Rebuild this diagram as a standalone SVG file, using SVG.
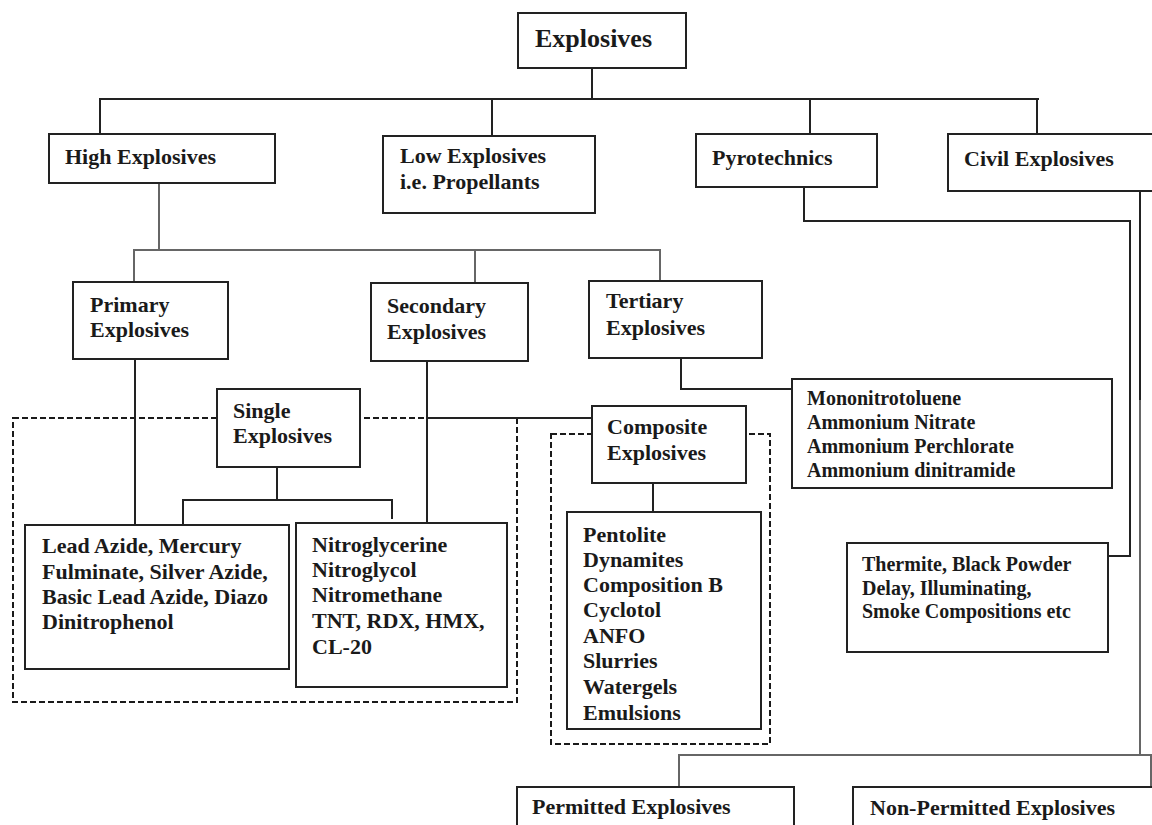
<svg xmlns="http://www.w3.org/2000/svg" width="1152" height="825" viewBox="0 0 1152 825">
<style>
.box{fill:#fff;stroke:#222;stroke-width:2}
.dash{fill:none;stroke:#1a1a1a;stroke-width:2;stroke-dasharray:6 3}
.ln{fill:none;stroke:#222;stroke-width:2}
.lg{fill:none;stroke:#666;stroke-width:2}
text{font-family:"Liberation Serif","Times New Roman",serif;font-weight:bold;fill:#1a1a1a;font-size:22px}
.t{font-size:26px}
.s{font-size:20px}
</style>
<rect width="1152" height="825" fill="#fff"/>
<g id="groups">
<rect class="dash" x="13" y="418" width="504" height="284"/>
<rect class="dash" x="551" y="434" width="219" height="310"/>
</g>
<g id="connectors">
<polyline class="ln" points="592,68 592,99"/>
<polyline class="ln" points="100,134 100,99 1039,99"/>
<polyline class="ln" points="492,99 492,136"/>
<polyline class="ln" points="810,99 810,134"/>
<polyline class="ln" points="1037,99 1037,134"/>
<polyline class="lg" points="159,183 159,250"/>
<polyline class="lg" points="134,282 134,250 660,250 660,281"/>
<polyline class="lg" points="475,250 475,283"/>
<polyline class="ln" points="135,359 135,525"/>
<polyline class="ln" points="427,361 427,523"/>
<polyline class="ln" points="427,418 592,418"/>
<polyline class="ln" points="681,359 681,389 792,389"/>
<polyline class="ln" points="277,467 277,500"/>
<polyline class="ln" points="183,525 183,500 392,500 392,519"/>
<polyline class="ln" points="653,483 653,512"/>
<polyline class="ln" points="804,187 804,221 1130,221 1130,556 1108,556"/>
<polyline class="ln" points="1140,191 1140,400"/>
<polyline class="lg" points="1140,400 1140,755"/>
<polyline class="lg" points="679,787 679,755 1151,755 1151,787"/>
</g>
<g id="n-explosives"><rect class="box" x="518" y="13" width="168" height="55"/><text class="t" x="535" y="47">Explosives</text></g>
<g id="n-high"><rect class="box" x="49" y="134" width="226" height="49"/><text x="65" y="164">High Explosives</text></g>
<g id="n-low"><rect class="box" x="383" y="136" width="212" height="77"/><text x="400" y="163">Low Explosives</text><text x="400" y="189">i.e. Propellants</text></g>
<g id="n-pyro"><rect class="box" x="696" y="134" width="181" height="53"/><text x="712" y="165">Pyrotechnics</text></g>
<g id="n-civil"><rect class="box" x="948" y="134" width="212" height="57"/><text x="964" y="166">Civil Explosives</text></g>
<g id="n-primary"><rect class="box" x="73" y="282" width="155" height="77"/><text x="90" y="312">Primary</text><text x="90" y="337">Explosives</text></g>
<g id="n-secondary"><rect class="box" x="371" y="283" width="157" height="78"/><text x="387" y="313">Secondary</text><text x="387" y="339">Explosives</text></g>
<g id="n-tertiary"><rect class="box" x="589" y="281" width="173" height="77"/><text x="606" y="308">Tertiary</text><text x="606" y="335">Explosives</text></g>
<g id="n-tertiary-list"><rect class="box" x="792" y="379" width="320" height="109"/><text class="s" x="807" y="405">Mononitrotoluene</text><text class="s" x="807" y="429">Ammonium Nitrate</text><text class="s" x="807" y="453">Ammonium Perchlorate</text><text class="s" x="807" y="477">Ammonium dinitramide</text></g>
<g id="n-single"><rect class="box" x="217" y="389" width="143" height="78"/><text x="233" y="418">Single</text><text x="233" y="443">Explosives</text></g>
<g id="n-composite"><rect class="box" x="592" y="406" width="154" height="77"/><text x="607" y="434">Composite</text><text x="607" y="460">Explosives</text></g>
<g id="n-primary-list"><rect class="box" x="25" y="525" width="264" height="144"/><text x="42" y="553">Lead Azide, Mercury</text><text x="42" y="579">Fulminate, Silver Azide,</text><text x="42" y="604">Basic Lead Azide, Diazo</text><text x="42" y="629">Dinitrophenol</text></g>
<g id="n-secondary-list"><rect class="box" x="296" y="523" width="211" height="164"/><text x="312" y="552">Nitroglycerine</text><text x="312" y="577">Nitroglycol</text><text x="312" y="602">Nitromethane</text><text x="312" y="628">TNT, RDX, HMX,</text><text x="312" y="654">CL-20</text></g>
<g id="n-composite-list"><rect class="box" x="567" y="512" width="194" height="217"/><text x="583" y="542">Pentolite</text><text x="583" y="567">Dynamites</text><text x="583" y="592">Composition B</text><text x="583" y="617">Cyclotol</text><text x="583" y="643">ANFO</text><text x="583" y="668">Slurries</text><text x="583" y="694">Watergels</text><text x="583" y="720">Emulsions</text></g>
<g id="n-pyro-list"><rect class="box" x="847" y="543" width="261" height="109"/><text class="s" x="862" y="571">Thermite, Black Powder</text><text class="s" x="862" y="595">Delay, Illuminating,</text><text class="s" x="862" y="618">Smoke Compositions etc</text></g>
<g id="n-permitted"><rect class="box" x="517" y="787" width="277" height="60"/><text x="532" y="814">Permitted Explosives</text></g>
<g id="n-nonpermitted"><rect class="box" x="853" y="787" width="307" height="60"/><text x="870" y="815">Non-Permitted Explosives</text></g>
</svg>
